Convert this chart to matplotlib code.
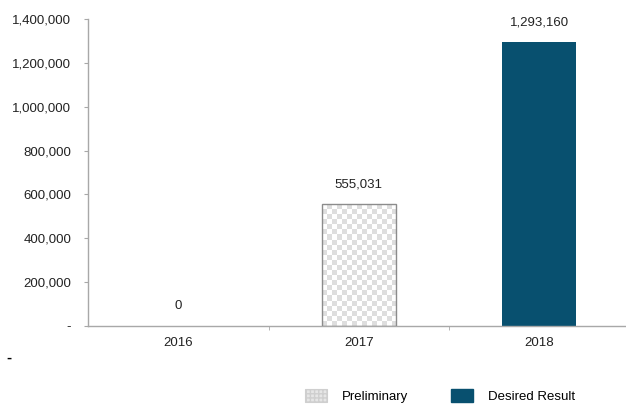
import numpy as np
import matplotlib
matplotlib.use("Agg")
import matplotlib.pyplot as plt
from matplotlib.patches import Patch
from matplotlib.colors import ListedColormap
from matplotlib.ticker import FuncFormatter

years = ["2016", "2017", "2018"]
values = [0, 555031, 1293160]
kinds = ["Preliminary", "Preliminary", "Desired Result"]

dark = "#08506f"
axis_grey = "#a8a8a8"
checker = ListedColormap(["#ffffff", "#dedede"])

plt.rcParams["font.family"] = ["Liberation Sans", "DejaVu Sans"]
plt.rcParams["font.size"] = 9.5
plt.rcParams["hatch.color"] = "#ffffff"

fig = plt.figure(figsize=(6.26, 4.04), dpi=100)
ax = fig.add_axes([88 / 626, 1 - 326 / 404, 1 - 88 / 626, (326 - 19) / 404])

x = np.arange(len(years))
ax.set_xlim(-0.5, 2.48)
ax.set_ylim(0, 1400000)

for xi, v, k in zip(x, values, kinds):
    if k == "Desired Result":
        b = ax.bar(xi, v, width=0.41, color=dark, zorder=2)[0]
    elif v > 0:
        b = ax.bar(xi, v, width=0.41, facecolor="none", edgecolor="#8c8c8c",
                   linewidth=1.0, zorder=3)[0]
        # checkerboard fill clipped to the bar
        x0, y0 = ax.transData.transform((xi - 0.205, 0))
        x1, y1 = ax.transData.transform((xi + 0.205, v))
        nx = max(1, int(round((x1 - x0) / 5)))
        ny = max(1, int(round((y1 - y0) / 5)))
        board = np.indices((ny, nx)).sum(axis=0) % 2
        im = ax.imshow(board, cmap=checker, vmin=0, vmax=1,
                       extent=(xi - 0.205, xi + 0.205, 0, v),
                       aspect="auto", interpolation="nearest", zorder=2)
        im.set_clip_path(b)
    ax.annotate(f"{v:,}", (xi, v), xytext=(0, 10), textcoords="offset points",
                ha="center", va="bottom", fontsize=9.5, color="#222222")

ax.set_xticks(x)
ax.set_xticklabels(years)
ax.set_xticks([0.5, 1.5], minor=True)
ax.tick_params(axis="x", which="major", length=0, pad=8, colors="#222222")
ax.tick_params(axis="x", which="minor", length=3, color=axis_grey)
ax.set_yticks(np.arange(0, 1400001, 200000))
ax.yaxis.set_major_formatter(FuncFormatter(lambda v, p: "-" if v == 0 else f"{v:,.0f}"))
ax.tick_params(axis="y", length=3, pad=9, color=axis_grey, labelcolor="#222222")

for s in ["top", "right"]:
    ax.spines[s].set_visible(False)
for s in ["left", "bottom"]:
    ax.spines[s].set_color(axis_grey)
    ax.spines[s].set_linewidth(1.0)

handles = [
    Patch(facecolor="#e6e6e6", edgecolor="#cfcfcf", hatch="++++", linewidth=0.8),
    Patch(facecolor=dark, edgecolor=dark),
]
fig.legend(handles, ["Preliminary", "Desired Result"], ncol=2, frameon=False,
           loc="center left", bbox_to_anchor=(305 / 626, 1 - 396 / 404),
           borderpad=0, borderaxespad=0, handlelength=1.67, handleheight=1.2,
           handletextpad=1.1, columnspacing=3.3, fontsize=9.5)

fig.text(6 / 626, 1 - 358 / 404, "-", fontsize=11, fontweight="bold",
         ha="left", va="center", color="black")

fig.savefig("out.png", dpi=100)
